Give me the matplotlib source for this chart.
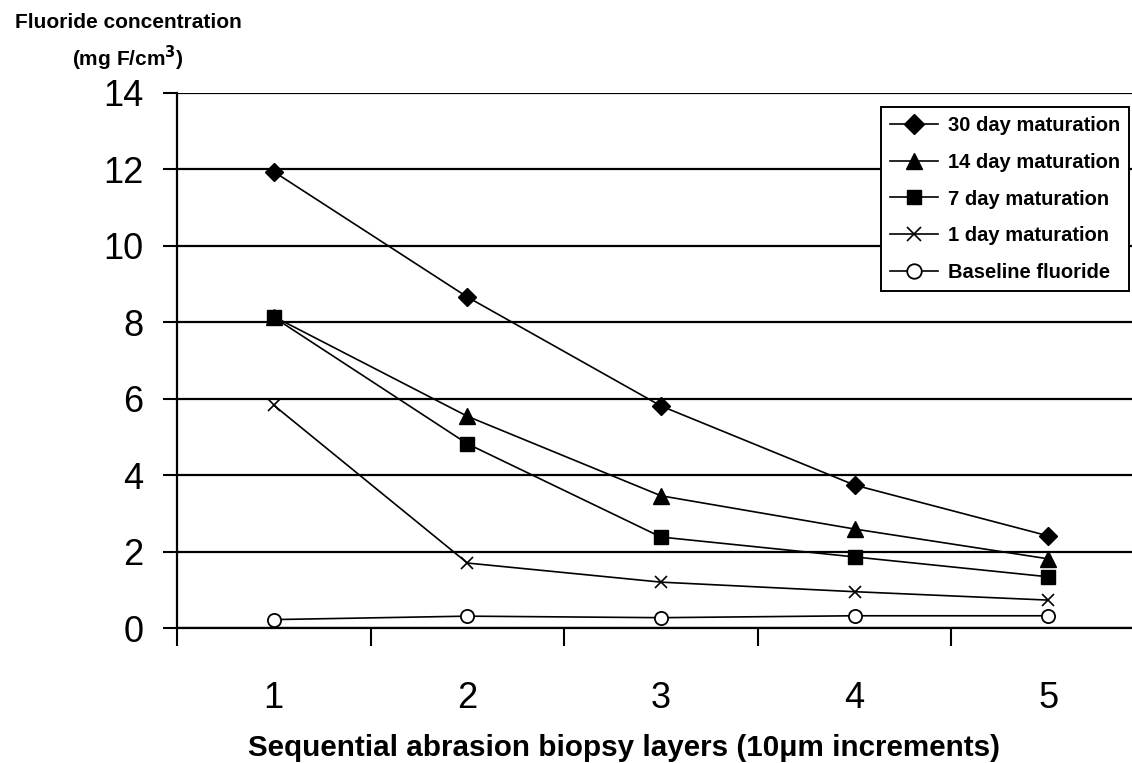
import matplotlib
matplotlib.use("Agg")
import matplotlib.pyplot as plt
import numpy as np

plt.rcParams['font.family'] = ['Liberation Sans', 'DejaVu Sans']

# data
layers = [1, 2, 3, 4, 5]
day30 = [11.94, 8.66, 5.81, 3.74, 2.41]
day14 = [8.15, 5.54, 3.46, 2.59, 1.81]
day7 = [8.13, 4.82, 2.38, 1.86, 1.34]
day1 = [5.83, 1.70, 1.20, 0.95, 0.73]
baseline = [0.22, 0.31, 0.27, 0.32, 0.32]

series = [
    ("30 day maturation", day30, dict(marker="D", ms=9, mfc="black")),
    ("14 day maturation", day14, dict(marker="^", ms=11, mfc="black")),
    ("7 day maturation", day7, dict(marker="s", ms=9.5, mfc="black")),
    ("1 day maturation", day1, dict(marker="x", ms=9, mew=1.2)),
    ("Baseline fluoride", baseline, dict(marker="o", ms=9.5, mfc="white", mew=1.3)),
]

fig = plt.figure(figsize=(11.32, 7.63), dpi=100)
ax = fig.add_axes([177 / 1132, 1 - 628 / 763, (1145 - 177) / 1132, 535 / 763])

for name, vals, style in series:
    ax.plot(layers, vals, color="black", lw=1.2, mec="black", label=name, zorder=3, **style)

ax.set_xlim(0.5, 5.5)
ax.set_ylim(0, 14)
ax.set_yticks(np.arange(0, 15, 2))
ax.set_xticks(layers)
ax.set_xticks(np.arange(0.5, 6, 1), minor=True)
ax.tick_params(axis="x", which="major", length=0, labelsize=26, pad=38)
ax.tick_params(axis="x", which="minor", length=13, width=1.5, direction="out")
ax.tick_params(axis="y", which="major", length=10, width=1.5, labelsize=26, pad=14)
ax.yaxis.grid(True, color="black", lw=1.6)
ax.set_axisbelow(True)
for s in ["top", "right"]:
    ax.spines[s].set_visible(False)
for s in ["left", "bottom"]:
    ax.spines[s].set_linewidth(1.6)

leg = ax.legend(loc="upper right", bbox_to_anchor=(1129 / 1132, 1 - 107 / 763),
                bbox_transform=fig.transFigure, fancybox=False, framealpha=1,
                edgecolor="black", prop=dict(weight="bold", size=14.5),
                handlelength=2.35, handletextpad=0.5, labelspacing=0.88,
                borderpad=0.45, borderaxespad=0, markerscale=1.1)
leg.get_frame().set_linewidth(1.4)

fig.text(128 / 1132, 1 - 22 / 763, "Fluoride concentration", ha="center", va="center",
         fontsize=15, fontweight="bold")
fig.text(128 / 1132, 1 - 58 / 763, r"(mg F/cm$^{\mathbf{3}}$)", ha="center", va="center",
         fontsize=15, fontweight="bold", math_fontfamily="dejavusans")
fig.text(624 / 1132, 1 - 748 / 763, "Sequential abrasion biopsy layers (10μm increments)",
         ha="center", va="center", fontsize=21.3, fontweight="bold")

fig.savefig("out.png", dpi=100)
